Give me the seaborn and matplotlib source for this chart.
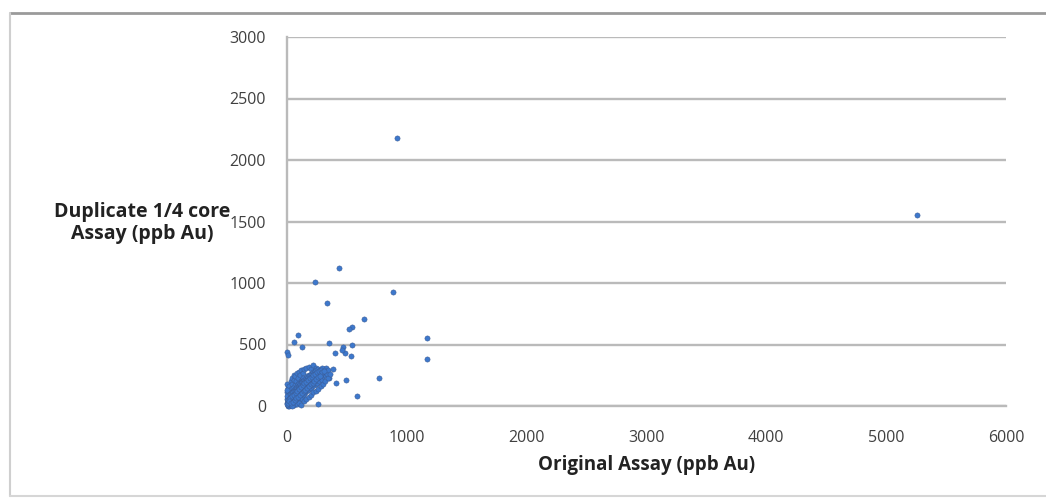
import matplotlib
matplotlib.use("Agg")
import matplotlib.pyplot as plt
from matplotlib.lines import Line2D
import pandas as pd
import seaborn as sns

# Dense group of low-grade check samples (ppb Au)
cluster_x = [5, 8, 10, 12, 15, 18, 20, 22, 25, 28, 30, 32, 35, 38, 40, 42, 45, 48, 50, 52,
             55, 58, 60, 62, 65, 68, 70, 72, 75, 78, 80, 82, 85, 88, 90, 92, 95, 98, 100, 102,
             105, 108, 110, 112, 115, 118, 120, 122, 125, 128, 130, 132, 135, 138, 140, 142, 145, 148, 150, 152,
             155, 158, 160, 162, 165, 168, 170, 172, 175, 178, 180, 185, 188, 190, 195, 198, 200, 205, 208, 210,
             215, 218, 220, 225, 228, 230, 235, 238, 240, 245, 248, 252, 255, 260, 265, 270, 275, 280, 285, 290,
             295, 300, 305, 310, 315, 320, 325, 330, 340, 350, 2, 4, 6, 3, 10, 14, 20, 25, 30, 35,
             40, 45, 50, 55, 60, 65, 70, 75, 80, 90, 100, 110, 120, 130, 140, 160, 180, 200, 220, 240,
             60, 80, 100, 120, 140, 160, 180, 200, 220, 240, 260, 280, 300, 320, 340, 360, 380, 5, 8, 12,
             15, 25, 35, 45, 0, 0, 1, 18, 22, 28, 33, 38, 43, 47, 53, 57, 63, 67, 73, 77,
             83, 87, 93, 97, 103, 107, 113, 117, 123, 127, 133, 137,
             3, 7, 16, 24, 31, 36, 44, 51, 58, 66, 74, 81, 89, 96, 104, 111, 119, 126, 134, 141,
             149, 156, 164, 171, 179, 186, 194, 201, 209, 216, 224, 231, 239, 246, 254, 261, 269, 276, 284, 291,
             12, 27, 41, 56, 71, 86, 101, 116, 131, 146, 161, 176, 191, 206, 221, 236, 251, 266, 281, 296,
             9, 19, 34, 49, 64, 79, 94, 109, 124, 139, 154, 169, 184, 199, 214, 229, 244, 259, 274, 311]
cluster_y = [3, 12, 6, 20, 9, 25, 15, 30, 18, 40, 22, 10, 45, 28, 55, 35, 20, 60, 42, 70,
             48, 30, 80, 55, 90, 62, 40, 100, 70, 110, 58, 85, 120, 75, 95, 50, 130, 88, 105, 70,
             140, 96, 118, 80, 150, 102, 125, 60, 160, 110, 135, 90, 170, 120, 145, 100, 180, 130, 155, 110,
             190, 140, 165, 120, 200, 150, 175, 130, 210, 160, 185, 140, 220, 170, 195, 150, 230, 180, 205, 160,
             240, 190, 215, 170, 250, 200, 225, 180, 260, 210, 235, 190, 270, 220, 245, 200, 280, 230, 255, 210,
             290, 240, 265, 300, 250, 280, 310, 260, 290, 230, 60, 110, 150, 180, 90, 130, 160, 100, 200, 140,
             180, 230, 120, 210, 250, 170, 240, 200, 270, 230, 280, 250, 290, 270, 300, 310, 320, 300, 330, 310,
             8, 15, 25, 10, 40, 55, 70, 90, 110, 120, 140, 160, 180, 200, 230, 260, 300, 40, 70, 50,
             2, 5, 8, 4, 25, 80, 130, 45, 75, 95, 65, 85, 110, 145, 100, 130, 115, 140, 125, 150,
             160, 140, 175, 160, 190, 170, 200, 185, 215, 195, 225, 205,
             18, 35, 60, 50, 75, 95, 88, 115, 98, 125, 120, 145, 138, 165, 150, 178, 172, 198, 190, 212,
             205, 228, 220, 240, 236, 255, 250, 262, 258, 275, 268, 285, 262, 290, 248, 300, 272, 295, 262, 305,
             45, 62, 78, 92, 108, 124, 138, 154, 168, 184, 196, 212, 226, 238, 252, 262, 276, 282, 296, 278,
             28, 42, 22, 36, 48, 62, 74, 90, 104, 118, 132, 148, 162, 176, 190, 204, 218, 232, 244, 282]

# Scattered pairs away from the main group
outlier_x = [915, 5260, 436, 233, 886, 331, 642, 539, 517, 1172, 1172, 94, 58, 122,
             0, 11, 347, 400, 483, 539, 469, 456, 533, 408, 492, 767, 581, 256]
outlier_y = [2180, 1550, 1120, 1006, 924, 835, 707, 640, 626, 555, 382, 577, 523, 480,
             442, 415, 512, 428, 428, 496, 482, 455, 409, 184, 211, 225, 81, 16]

x_ticks = [0, 1000, 2000, 3000, 4000, 5000, 6000]
y_ticks = [0, 500, 1000, 1500, 2000, 2500, 3000]

x_label = "Original Assay (ppb Au)"
y_label = "Duplicate 1/4 core\nAssay (ppb Au)"

df = pd.DataFrame({
    "original": cluster_x + outlier_x,
    "duplicate": cluster_y + outlier_y,
})

sns.set_theme(style="white")
plt.rcParams["font.family"] = ["Open Sans", "DejaVu Sans"]

fig = plt.figure(figsize=(10.46, 5.0), dpi=100)
ax = fig.add_axes([287 / 1046, 1 - 406 / 500, (1006 - 287) / 1046, (406 - 37) / 500])

grid_col = "#bababa"
ax.set_axisbelow(True)
ax.yaxis.grid(True, color=grid_col, linewidth=1.7)
ax.xaxis.grid(False)

sns.scatterplot(data=df, x="original", y="duplicate", ax=ax, s=14,
                color="#3d78cc", edgecolor="#3a5a92", linewidth=0.35,
                zorder=3, clip_on=False)

ax.set_xlim(0, 6000)
ax.set_ylim(0, 3000)
ax.set_xticks(x_ticks)
ax.set_yticks(y_ticks)
ax.set_xticklabels([str(v) for v in x_ticks])
ax.set_yticklabels([str(v) for v in y_ticks])

for side in ("top", "right"):
    ax.spines[side].set_visible(False)
for side in ("left", "bottom"):
    ax.spines[side].set_color(grid_col)
    ax.spines[side].set_linewidth(1.7)

ax.tick_params(axis="both", which="major", direction="out", length=4, width=1.2,
               color=grid_col, labelsize=11.5, labelcolor="#404040")
ax.tick_params(axis="y", pad=11)
ax.tick_params(axis="x", pad=13)

ax.set_xlabel(x_label, fontsize=13.5, fontweight="bold", color="#222222", labelpad=7)
ax.set_ylabel("")
fig.text(142 / 1046, 1 - 223 / 500, y_label, fontsize=14, fontweight="bold",
         color="#222222", ha="center", va="center", linespacing=1.2)

# Outer chart frame
fig.add_artist(Line2D([10 / 1046, 1.0], [1 - 13 / 500, 1 - 13 / 500],
                      transform=fig.transFigure, color="#9a9a9a", linewidth=2.0))
fig.add_artist(Line2D([10 / 1046, 10 / 1046], [1 - 13 / 500, 1 - 496 / 500],
                      transform=fig.transFigure, color="#cfcfcf", linewidth=1.5))
fig.add_artist(Line2D([10 / 1046, 1.0], [1 - 496 / 500, 1 - 496 / 500],
                      transform=fig.transFigure, color="#d6d6d6", linewidth=1.5))

fig.savefig("out.png", dpi=100, facecolor="white")
